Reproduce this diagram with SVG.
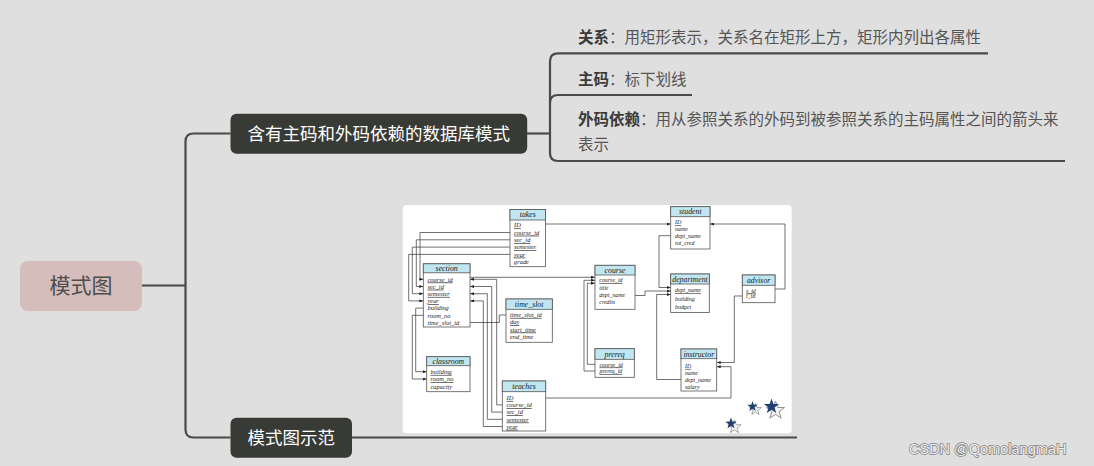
<svg xmlns="http://www.w3.org/2000/svg" width="1094" height="466" viewBox="0 0 1094 466">
<style>
.mm{fill:none;stroke:#4a4a4a;stroke-width:2.2}
.cjk{font-family:"Noto Sans CJK SC","Noto Sans",sans-serif}
.leaf{font-size:15.5px;fill:#555}
.leaf .b{font-weight:bold;fill:#3a3a3a}
.tb{fill:#fff;stroke:#555;stroke-width:0.8}
.th{fill:#bfe6f1;stroke:#555;stroke-width:0.8}
.tt{font-family:"Liberation Serif",serif;font-style:italic;font-size:7.8px;fill:#1a1a1a;text-anchor:middle}
.a{font-family:"Liberation Serif",serif;font-style:italic;font-size:6.4px;fill:#222}
.s{font-family:"Liberation Serif",serif;font-style:italic;font-size:5.9px;fill:#222}
.u{text-decoration:underline}
.c{fill:none;stroke:#333;stroke-width:0.7}
.ar{marker-end:url(#ah)}
</style>
<defs>
<marker id="ah" viewBox="0 0 4 3" refX="4" refY="1.5" markerWidth="4" markerHeight="3" markerUnits="userSpaceOnUse" orient="auto"><path d="M0,0L4,1.5L0,3z" fill="#222"/></marker>
<path id="star" d="M0,-10 L2.35,-3.24 L9.51,-3.09 L3.8,1.24 L5.88,8.09 L0,4 L-5.88,8.09 L-3.8,1.24 L-9.51,-3.09 L-2.35,-3.24 Z"/>
</defs>
<rect width="1094" height="466" fill="#dfdfdf"/>

<g id="mindmap-connectors">
<path class="mm" d="M142,285.5 H185.5"/>
<path class="mm" d="M230.5,133.5 H193.5 Q185.5,133.5 185.5,141.5 V429.5 Q185.5,437.5 193.5,437.5 H230.5"/>
<path class="mm" d="M527,133.5 H550"/>
<path class="mm" d="M988,53.3 H558 Q550,53.3 550,61.3 V153 Q550,161 558,161 H1065"/>
<path class="mm" d="M692,95 H558 Q550,95 550,103"/>
<path class="mm" d="M352,437.5 H797"/>
</g>

<g id="root">
<rect x="20" y="261" width="122" height="50" rx="8" fill="#d5bdbc"/>
<text class="cjk" x="81" y="293" font-size="21" fill="#4d4d4d" text-anchor="middle">模式图</text>
</g>

<g id="branch-schema">
<rect x="230.5" y="113.7" width="296.7" height="40" rx="6" fill="#383a35"/>
<text class="cjk" x="378.8" y="139.6" font-size="17.5" fill="#fff" text-anchor="middle">含有主码和外码依赖的数据库模式</text>
</g>

<g id="branch-example">
<rect x="230.5" y="417.7" width="121.5" height="40" rx="6" fill="#383a35"/>
<text class="cjk" x="291.2" y="443.6" font-size="17.5" fill="#fff" text-anchor="middle">模式图示范</text>
</g>

<g id="leaf-relation">
<text class="cjk leaf" x="578" y="43"><tspan class="b">关系</tspan>：用矩形表示，关系名在矩形上方，矩形内列出各属性</text>
</g>
<g id="leaf-pk">
<text class="cjk leaf" x="578" y="84.5"><tspan class="b">主码</tspan>：标下划线</text>
</g>
<g id="leaf-fk">
<text class="cjk leaf" x="578" y="124.7"><tspan class="b">外码依赖</tspan>：用从参照关系的外码到被参照关系的主码属性之间的箭头来</text>
<text class="cjk leaf" x="578" y="150">表示</text>
</g>

<g id="schema-picture">
<rect x="402.7" y="205" width="389" height="228.3" rx="4" fill="#fff"/>

<g id="schema-connectors">
<path class="c ar" d="M545.5,224 H670.7"/>
<path class="c ar" d="M510,232.5 H420 V279.3 H423.3"/>
<path class="c ar" d="M510,239.8 H416.3 V286.5 H423.3"/>
<path class="c ar" d="M510,247.1 H412.3 V293.7 H423.3"/>
<path class="c ar" d="M510,254.4 H408.7 V300.9 H423.3"/>
<path class="c ar" d="M423.3,308.1 H415.7 V371.7 H426.7"/>
<path class="c ar" d="M423.3,315.3 H412.3 V379 H426.7"/>
<path class="c" d="M470,322.5 H499.3 V315 H506"/>
<path class="c ar" d="M470,277.3 H595"/>
<path class="c ar" d="M502.3,404.9 H496.7 V279.3 H470"/>
<path class="c ar" d="M502.3,412.1 H491.7 V286.5 H470"/>
<path class="c ar" d="M502.3,419.3 H487.3 V293.7 H470"/>
<path class="c ar" d="M502.3,426.5 H483.3 V300.9 H470"/>
<path class="c ar" d="M595,364.3 H587.3 V283.3 H595"/>
<path class="c ar" d="M595,371 H584 V280.3 H595"/>
<path class="c ar" d="M670.7,235.7 H659 V287.5 H670.7"/>
<path class="c ar" d="M635,295.5 H645 V291 H670.7"/>
<path class="c ar" d="M681,379.5 H656.7 V294.5 H670.7"/>
<path class="c ar" d="M775,289 H785 V224 H710"/>
<path class="c ar" d="M742.3,296 H734.3 V362.5 H716.7"/>
<path class="c ar" d="M545.7,398 H731 V366.7 H716.7"/>
</g>

<g id="t-takes">
<rect class="tb" x="510" y="209.5" width="35.5" height="57.2"/>
<rect class="th" x="510" y="209.5" width="35.5" height="10.5"/>
<text class="tt" x="527.75" y="217.3">takes</text>
<text class="a u" x="514" y="227.4">ID</text>
<text class="a u" x="514" y="234.7">course_id</text>
<text class="a u" x="514" y="242">sec_id</text>
<text class="a u" x="514" y="249.3">semester</text>
<text class="a u" x="514" y="256.6">year</text>
<text class="a" x="514" y="263.9">grade</text>
</g>

<g id="t-student">
<rect class="tb" x="670.7" y="206.7" width="39.3" height="42.3"/>
<rect class="th" x="670.7" y="206.7" width="39.3" height="10"/>
<text class="tt" x="690.35" y="214.2">student</text>
<text class="s u" x="675" y="224.4">ID</text>
<text class="s" x="675" y="231.1">name</text>
<text class="s" x="675" y="237.8">dept_name</text>
<text class="s" x="675" y="244.5">tot_cred</text>
</g>

<g id="t-section">
<rect class="tb" x="423.3" y="263.8" width="46.7" height="63.2"/>
<rect class="th" x="423.3" y="263.8" width="46.7" height="9"/>
<text class="tt" x="446.65" y="270.8">section</text>
<text class="a u" x="427.5" y="281.5">course_id</text>
<text class="a u" x="427.5" y="288.7">sec_id</text>
<text class="a u" x="427.5" y="295.9">semester</text>
<text class="a u" x="427.5" y="303.1">year</text>
<text class="a" x="427.5" y="310.3">building</text>
<text class="a" x="427.5" y="317.5">room_no</text>
<text class="a" x="427.5" y="324.7">time_slot_id</text>
</g>

<g id="t-course">
<rect class="tb" x="595" y="265.3" width="40" height="44"/>
<rect class="th" x="595" y="265.3" width="40" height="9.7"/>
<text class="tt" x="615" y="272.7">course</text>
<text class="s u" x="599.3" y="282.2">course_id</text>
<text class="s" x="599.3" y="289.5">title</text>
<text class="s" x="599.3" y="296.8">dept_name</text>
<text class="s" x="599.3" y="304.1">credits</text>
</g>

<g id="t-department">
<rect class="tb" x="670.7" y="274" width="38.6" height="38.5"/>
<rect class="th" x="670.7" y="274" width="38.6" height="10"/>
<text class="tt" x="690" y="281.6">department</text>
<text class="s u" x="675" y="292.2">dept_name</text>
<text class="s" x="675" y="300.8">building</text>
<text class="s" x="675" y="309.3">budget</text>
</g>

<g id="t-advisor">
<rect class="tb" x="742.3" y="275" width="32.7" height="27.7"/>
<rect class="th" x="742.3" y="275" width="32.7" height="10.3"/>
<text class="tt" x="758.65" y="282.8">advisor</text>
<text class="s u" x="746" y="292.6">s_id</text>
<text class="s" x="746" y="298.4">i_id</text>
</g>

<g id="t-time_slot">
<rect class="tb" x="506" y="299" width="46.3" height="43.3"/>
<rect class="th" x="506" y="299" width="46.3" height="10.3"/>
<text class="tt" x="529.15" y="306.8">time_slot</text>
<text class="a u" x="510" y="316.9">time_slot_id</text>
<text class="a u" x="510" y="324.2">day</text>
<text class="a u" x="510" y="331.5">start_time</text>
<text class="a" x="510" y="338.8">end_time</text>
</g>

<g id="t-classroom">
<rect class="tb" x="426.7" y="356.7" width="43.3" height="35"/>
<rect class="th" x="426.7" y="356.7" width="43.3" height="9"/>
<text class="tt" x="448.35" y="363.7">classroom</text>
<text class="a u" x="430.5" y="373.9">building</text>
<text class="a u" x="430.5" y="381.2">room_no</text>
<text class="a" x="430.5" y="388.5">capacity</text>
</g>

<g id="t-prereq">
<rect class="tb" x="595" y="348.7" width="39.3" height="28.6"/>
<rect class="th" x="595" y="348.7" width="39.3" height="10.6"/>
<text class="tt" x="614.65" y="356.6">prereq</text>
<text class="s u" x="599.5" y="366.5">course_id</text>
<text class="s u" x="599.5" y="373.2">prereq_id</text>
</g>

<g id="t-instructor">
<rect class="tb" x="681" y="349" width="35.7" height="42"/>
<rect class="th" x="681" y="349" width="35.7" height="9.7"/>
<text class="tt" x="698.85" y="356.5">instructor</text>
<text class="s u" x="685" y="367.9">ID</text>
<text class="s" x="685" y="374.8">name</text>
<text class="s" x="685" y="381.7">dept_name</text>
<text class="s" x="685" y="388.6">salary</text>
</g>

<g id="t-teaches">
<rect class="tb" x="502.3" y="381" width="43.4" height="50"/>
<rect class="th" x="502.3" y="381" width="43.4" height="10.7"/>
<text class="tt" x="524" y="389">teaches</text>
<text class="a u" x="506.5" y="399.9">ID</text>
<text class="a u" x="506.5" y="407.1">course_id</text>
<text class="a u" x="506.5" y="414.3">sec_id</text>
<text class="a u" x="506.5" y="421.5">semester</text>
<text class="a u" x="506.5" y="428.7">year</text>
</g>

<g id="stars">
<use href="#star" transform="translate(755.5,409.5) scale(0.62)" fill="#f4f4f4" stroke="#8a8a8a" stroke-width="1.2"/>
<use href="#star" transform="translate(752.5,406.5) scale(0.55)" fill="#1f3f70"/>
<use href="#star" transform="translate(775.5,410.5) scale(0.95)" fill="#f4f4f4" stroke="#8a8a8a" stroke-width="1"/>
<use href="#star" transform="translate(771.5,406.5) scale(0.8)" fill="#1f3f70"/>
<use href="#star" transform="translate(734.5,427) scale(0.7)" fill="#f4f4f4" stroke="#8a8a8a" stroke-width="1.1"/>
<use href="#star" transform="translate(731,423.5) scale(0.6)" fill="#1f3f70"/>
</g>
</g>

<g id="watermark">
<text x="909" y="453.5" font-family="Liberation Sans, Arial, sans-serif" font-size="14.5" fill="#eeeeee" stroke="#7e7e7e" stroke-width="1.4" paint-order="stroke">CSDN @QomolangmaH</text>
</g>
</svg>
